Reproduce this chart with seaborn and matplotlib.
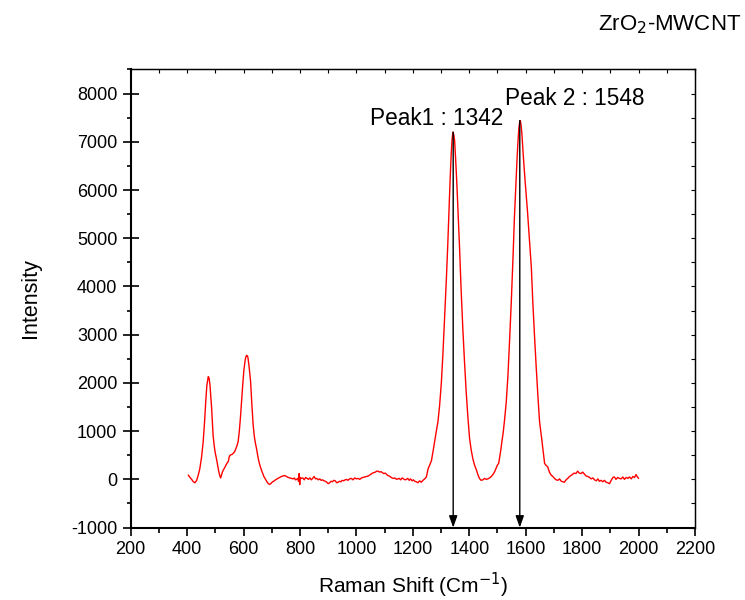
import numpy as np
import pandas as pd
import seaborn as sns
import matplotlib.pyplot as plt
from matplotlib.ticker import MultipleLocator

# Raman spectrum
shift = [404, 410, 416, 422, 428, 434, 440, 445, 451, 457, 462, 466, 470, 475, 478, 481, 484, 487, 490, 492,
         496, 500, 504, 508, 512, 516, 519, 522, 525, 528, 533, 538, 542, 546, 549, 551, 555, 560, 565, 569,
         573, 577, 581, 585, 589, 593, 597, 601, 605, 608, 611, 614, 616, 620, 625, 629, 634, 638, 642, 646,
         650, 654, 658, 663, 668, 672, 675, 680, 684, 688, 693, 698, 703, 707, 711, 716, 722, 728, 734, 740,
         746, 752, 758, 764, 770, 776, 780, 784, 788, 792, 795, 797, 799, 801, 805, 810, 815, 820, 825, 830,
         835, 840, 845, 850, 855, 860, 865, 870, 875, 880, 885, 890, 895, 900, 905, 910, 915, 920, 925, 930,
         935, 940, 945, 950, 955, 960, 965, 970, 976, 982, 988, 994, 1000, 1006, 1012, 1018, 1024, 1030, 1036, 1042,
         1047, 1052, 1057, 1062, 1067, 1072, 1077, 1082, 1087, 1092, 1097, 1102, 1106, 1111, 1116, 1121, 1126, 1131, 1136, 1142,
         1147, 1152, 1157, 1162, 1167, 1172, 1177, 1182, 1187, 1192, 1197, 1202, 1207, 1212, 1218, 1224, 1230, 1236, 1242, 1248,
         1254, 1260, 1266, 1271, 1277, 1283, 1289, 1295, 1301, 1307, 1313, 1319, 1324, 1328, 1332, 1336, 1339, 1342, 1345, 1348,
         1352, 1356, 1361, 1366, 1371, 1377, 1383, 1389, 1395, 1401, 1407, 1413, 1419, 1425, 1431, 1436, 1442, 1448, 1454, 1460,
         1466, 1472, 1478, 1484, 1490, 1495, 1500, 1504, 1507, 1512, 1516, 1520, 1525, 1531, 1537, 1543, 1549, 1555, 1560, 1565,
         1569, 1573, 1576, 1579, 1581, 1584, 1587, 1591, 1596, 1601, 1607, 1613, 1620, 1625, 1631, 1637, 1643, 1649, 1655, 1661,
         1667, 1672, 1678, 1684, 1690, 1696, 1702, 1708, 1714, 1720, 1726, 1731, 1737, 1743, 1749, 1755, 1761, 1767, 1772, 1778,
         1784, 1790, 1796, 1802, 1808, 1814, 1820, 1826, 1832, 1838, 1844, 1850, 1856, 1861, 1867, 1873, 1879, 1885, 1891, 1897,
         1903, 1909, 1914, 1920, 1926, 1932, 1938, 1944, 1950, 1956, 1962, 1968, 1974, 1980, 1986, 1991, 1995, 2000]
intensity = [90, 40, 0, -50, -70, -20, 100, 220, 450, 780, 1200, 1610, 1950, 2130, 2100, 1960, 1720, 1470, 1150, 920,
             700, 540, 430, 300, 170, 70, 30, 90, 150, 190, 240, 300, 340, 370, 460, 490, 510, 520, 550, 580,
             640, 700, 790, 1000, 1280, 1620, 1950, 2250, 2440, 2540, 2570, 2560, 2510, 2320, 2030, 1600, 1130, 900, 750, 640,
             500, 380, 290, 200, 120, 60, 30, -20, -60, -90, -105, -80, -50, -40, -20, 0, 20, 40, 60, 70,
             80, 60, 40, 30, 20, 10, 30, -10, 0, 20, -40, 120, -110, 40, 20, 30, -10, 40, 20, 0,
             30, -10, 20, 60, 10, 20, -10, 10, -20, -10, -30, -40, -60, -90, -70, -40, -50, -20, -30, -70,
             -60, -40, -50, -20, -30, -10, 0, -20, 10, 20, -10, 30, 10, 20, 0, 30, 40, 50, 60, 70,
             90, 110, 130, 140, 150, 170, 170, 150, 160, 140, 120, 130, 110, 80, 70, 50, 30, 20, 30, 0,
             10, 20, -10, 30, 10, -10, 0, 20, -20, 10, -30, -10, -40, -50, -70, -30, -60, -20, 10, 50,
             220, 300, 390, 560, 780, 990, 1200, 1540, 2000, 2650, 3400, 4180, 4900, 5570, 6200, 6750, 7050, 7200, 7150, 7030,
             6600, 6125, 5450, 4740, 3950, 3140, 2450, 1820, 1300, 850, 600, 420, 290, 200, 90, 20, -20, -10, 20, 0,
             10, 30, 60, 100, 160, 230, 300, 330, 430, 620, 800, 960, 1230, 1600, 2150, 2900, 3700, 4600, 5430, 6100,
             6610, 7050, 7300, 7420, 7440, 7330, 7120, 6750, 6330, 5950, 5500, 5000, 4390, 3700, 3000, 2350, 1750, 1200, 920, 620,
             330, 290, 260, 150, 90, 60, 20, -10, -20, 10, -40, -50, -60, -10, 20, 60, 80, 110, 130, 120,
             170, 130, 120, 150, 110, 70, 60, 40, 10, 30, -10, -30, 10, -40, -20, -50, -20, -60, -70, -90,
             -20, 40, 50, 0, 40, 20, 10, 50, 0, 40, 20, 50, 10, 60, 40, 100, 60, 20]

peak_x = [1343, 1579]
peak_y = [7200, 7440]
peak_labels = ['Peak1 : 1342', 'Peak 2 : 1548']
label_x = [1047, 1525]
label_y = [7490, 7900]

df = pd.DataFrame({'shift': shift, 'intensity': intensity})

sns.set_style('ticks')
plt.rcParams['font.family'] = ['Liberation Sans', 'DejaVu Sans']
plt.rcParams['axes.unicode_minus'] = False
plt.rcParams['text.color'] = 'black'
plt.rcParams['axes.labelcolor'] = 'black'
plt.rcParams['xtick.color'] = 'black'
plt.rcParams['ytick.color'] = 'black'
plt.rcParams['axes.edgecolor'] = 'black'

fig = plt.figure(figsize=(7.45, 6.0), dpi=100)
ax = fig.add_axes([0.1754, 0.1207, 0.7575, 0.7635])

sns.lineplot(data=df, x='shift', y='intensity', color='red', linewidth=1.0, ax=ax)

for px, py in zip(peak_x, peak_y):
    ax.annotate('', xy=(px, -1000), xytext=(px, py),
                arrowprops=dict(arrowstyle='-|>,head_length=0.7,head_width=0.25',
                                color='black', lw=1.0, shrinkA=0, shrinkB=0))
for lx, ly, txt in zip(label_x, label_y, peak_labels):
    ax.text(lx, ly, txt, fontsize=16.3, ha='left', va='center')

ax.set_xlim(200, 2200)
ax.set_ylim(-1000, 8500)
ax.xaxis.set_major_locator(MultipleLocator(200))
ax.xaxis.set_minor_locator(MultipleLocator(100))
ax.yaxis.set_major_locator(MultipleLocator(1000))
ax.yaxis.set_minor_locator(MultipleLocator(500))

ax.tick_params(axis='x', which='major', direction='out', length=6, width=1.2, labelsize=13, pad=4)
ax.tick_params(axis='x', which='minor', direction='out', length=3.5, width=1.2)
ax.tick_params(axis='y', which='major', direction='inout', length=12, width=1.2, labelsize=13)
ax.tick_params(axis='y', which='minor', direction='out', length=3, width=1.2)

for side in ['left', 'bottom']:
    ax.spines[side].set_linewidth(1.5)
for side in ['top', 'right']:
    ax.spines[side].set_visible(True)
    ax.spines[side].set_linewidth(1.0)

top = ax.secondary_xaxis('top')
top.xaxis.set_major_locator(MultipleLocator(200))
top.xaxis.set_minor_locator(MultipleLocator(100))
top.tick_params(which='both', direction='in', length=3, width=0.8, labeltop=False)
right = ax.secondary_yaxis('right')
right.yaxis.set_major_locator(MultipleLocator(1000))
right.yaxis.set_minor_locator(MultipleLocator(500))
right.tick_params(which='both', direction='in', length=3, width=0.8, labelright=False)

ax.set_xlabel('Raman Shift (Cm$^{-1}$)', fontsize=15, labelpad=9)
ax.set_ylabel('Intensity', fontsize=15.5, labelpad=22)

fig.text(598 / 745, 1 - 25 / 600, 'ZrO$_2$-MWCNT', fontsize=16, ha='left', va='center')

plt.savefig('out.png', dpi=100)
